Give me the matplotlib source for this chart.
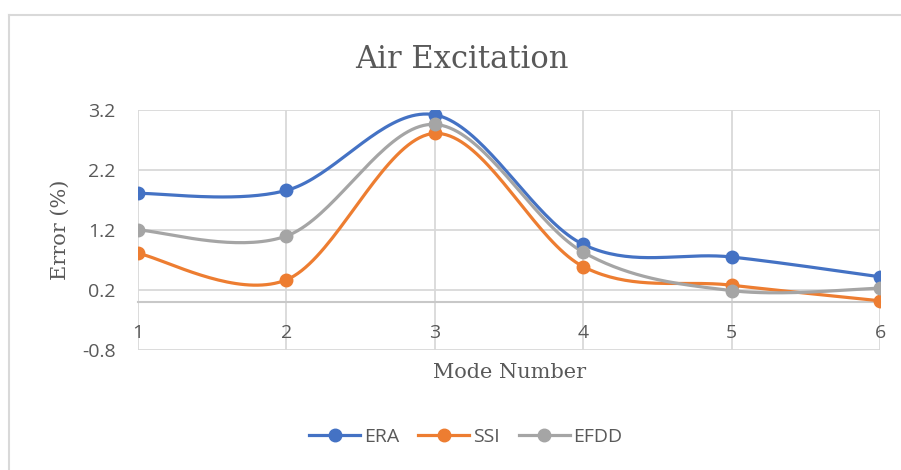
import numpy as np
import matplotlib.pyplot as plt
from matplotlib.lines import Line2D

modes = [1, 2, 3, 4, 5, 6]
era = [1.81, 1.86, 3.12, 0.96, 0.75, 0.42]
ssi = [0.81, 0.37, 2.81, 0.59, 0.28, 0.02]
efdd = [1.20, 1.10, 2.96, 0.83, 0.19, 0.23]
yticks = [-0.8, 0.2, 1.2, 2.2, 3.2]

colors = {'ERA': '#4472C4', 'SSI': '#ED7D31', 'EFDD': '#A5A5A5'}
txt = '#595959'
sans = ['Open Sans', 'DejaVu Sans']
serif = ['DejaVu Serif']


def smooth(x, y, n=40):
    # Excel-like smoothing: cubic bezier with catmull-rom style control points
    p = np.column_stack([x, y]).astype(float)
    p = np.vstack([p[0], p, p[-1]])
    out = []
    for i in range(1, len(p) - 2):
        p0, p1, p2, p3 = p[i - 1], p[i], p[i + 1], p[i + 2]
        c1 = p1 + (p2 - p0) / 6
        c2 = p2 - (p3 - p1) / 6
        t = np.linspace(0, 1, n)[:, None]
        seg = ((1 - t) ** 3) * p1 + 3 * ((1 - t) ** 2) * t * c1 + 3 * (1 - t) * t ** 2 * c2 + t ** 3 * p2
        out.append(seg)
    out = np.vstack(out)
    return out[:, 0], out[:, 1]


fig = plt.figure(figsize=(9.01, 4.70), dpi=100)
ax = fig.add_axes([138 / 901, (470 - 350) / 470, (880 - 138) / 901, 240 / 470])

for name, vals in [('ERA', era), ('SSI', ssi), ('EFDD', efdd)]:
    sx, sy = smooth(modes, vals)
    ax.plot(sx, sy, color=colors[name], lw=2.3, solid_capstyle='round', zorder=3)
    ax.plot(modes, vals, 'o', color=colors[name], ms=9, zorder=4)
    ax.plot([], [], '-o', color=colors[name], lw=2.3, ms=9, label=name)

ax.set_xlim(1, 6)
ax.set_ylim(-0.8, 3.2)
ax.set_yticks(yticks)
ax.set_yticklabels([f'{v:.1f}' for v in yticks])
ax.set_xticks(modes)
ax.grid(True, color='#d9d9d9', lw=1.3)
ax.set_axisbelow(True)
for s in ['left', 'right', 'top']:
    ax.spines[s].set_visible(False)
ax.spines['bottom'].set_position(('data', 0))
ax.spines['bottom'].set_color('#c8c8c8')
ax.spines['bottom'].set_linewidth(1.5)
ax.tick_params(length=0, labelcolor=txt, labelsize=14)
ax.tick_params(axis='x', pad=16)
ax.tick_params(axis='y', pad=16)
for lab in ax.get_xticklabels() + ax.get_yticklabels():
    lab.set_family(sans)

fig.text(462 / 901, 1 - 60 / 470, 'Air Excitation', ha='center', va='center',
         fontsize=22, color=txt, family=serif)
fig.text(510 / 901, 1 - 372 / 470, 'Mode Number', ha='center', va='center',
         fontsize=15, color=txt, family=serif)
fig.text(60 / 901, 1 - 230 / 470, 'Error (%)', ha='center', va='center',
         rotation=90, fontsize=15, color=txt, family=serif)

leg = fig.legend(loc='center', bbox_to_anchor=(466 / 901, 1 - 437 / 470), ncol=3,
                 frameon=False, handlelength=2.6, columnspacing=1.0, handletextpad=0.2,
                 prop={'family': sans, 'size': 14})
for t in leg.get_texts():
    t.set_color(txt)

# chart area border
fig.add_artist(Line2D([9 / 901, 9 / 901], [0, 1 - 15 / 470], color='#d9d9d9', lw=1.5))
fig.add_artist(Line2D([9 / 901, 1], [1 - 15 / 470, 1 - 15 / 470], color='#d9d9d9', lw=1.5))

fig.savefig('out.png', dpi=100)
